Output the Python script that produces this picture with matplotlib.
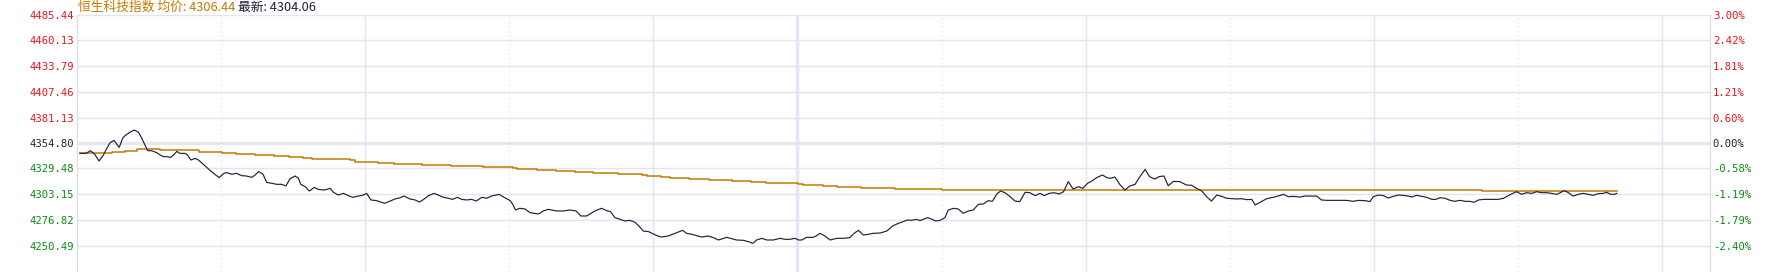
import matplotlib
matplotlib.use('Agg')
import matplotlib.pyplot as plt

# minutes after 9:30 (midday break removed, 12:00 == 13:00 == 150)
mins = [0.6, 1.9, 2.8, 3.7, 4.6, 5.5, 6.2, 6.9, 7.7, 8.3, 8.8, 9.5, 10.0, 11.0, 11.9,
        12.8, 13.5, 14.2, 14.7, 15.5, 16.6, 17.3, 18.0, 18.7, 19.5, 20.1, 20.8, 21.4,
        22.5, 23.0, 23.7, 24.6, 25.3, 26.3, 27.0, 27.7, 28.7, 29.6, 30.6, 31.2, 32.2,
        33.2, 34.3, 35.2, 36.4, 37.1, 37.8, 38.7, 39.5, 40.5, 41.6, 42.6, 43.5, 44.3,
        45.4, 46.1, 46.6, 47.5, 48.4, 49.4, 50.2, 51.5,
        52.7, 53.4, 54.4, 55.5, 56.5, 57.4, 58.6, 59.6, 60.3, 61.2, 62.4, 63.4, 64.1,
        65.2, 66.2, 67.3, 68.1, 69.3, 70.4, 71.3, 72.1, 73.2, 74.3, 75.2, 76.3, 77.3,
        78.2, 79.2, 80.1, 81.1, 82.2, 83.1, 84.3, 85.3, 86.3, 87.9, 88.8, 90.2, 90.8,
        91.3, 92.2, 93.3, 94.3, 96.1, 97.1, 98.1, 99.9, 101.3, 102.6, 103.9, 104.9, 106.1,
        106.8, 107.8, 109.2, 110.3, 111.1, 112.0, 113.1, 114.1, 115.1, 116.2, 117.1,
        117.9, 119.0, 120.0, 120.9, 121.7, 123.1, 124.5, 126.1, 126.9, 128.0, 129.0,
        130.1, 131.4, 132.5, 133.5, 134.2, 135.3, 136.3, 137.3, 138.7, 139.8, 140.7,
        141.5, 142.6, 143.6, 145.0, 146.4, 147.4, 148.5, 149.5, 150.2, 150.9, 151.9,
        153.3, 154.0, 154.7, 155.7, 156.8, 158.2, 159.6,
        160.9, 161.8, 162.7, 163.7, 164.8, 165.8, 167.2, 168.6, 169.8, 171.0, 172.0,
        172.9, 173.8, 174.8, 175.5, 176.2, 177.1, 177.9, 178.8, 179.7, 180.7, 181.4,
        182.5, 183.5, 184.5, 185.6, 186.6, 187.7, 188.7, 189.7, 190.6, 191.5, 192.3,
        193.2, 194.3, 195.3, 196.3, 197.4, 198.4, 199.5, 200.5, 201.4, 202.4, 203.4,
        204.5, 205.4, 206.4, 207.4, 208.5, 209.4, 210.4, 211.3, 212.3, 213.5, 214.4,
        215.1, 216.1, 217.2, 218.2, 219.2, 220.3, 221.3, 222.4, 223.3, 224.4, 225.3,
        226.3, 227.2, 228.3, 229.6, 231.0, 232.1, 233.1, 234.2, 235.2, 236.2, 237.3,
        238.3, 239.4, 240.4, 241.4, 242.5, 243.5, 244.6, 245.3, 246.3, 247.7, 249.1,
        250.1, 251.2, 252.2, 253.2, 254.6, 255.7, 256.7, 258.1, 259.1, 260.2, 262.3,
        264.3, 265.7, 266.8, 268.2,
        269.2, 269.9, 270.9, 272.0, 273.0, 274.1, 275.1, 276.1, 277.2, 277.9, 278.9,
        280.0, 281.0, 282.1, 282.9, 283.8, 284.8, 285.9, 286.9, 287.9, 289.0, 290.0,
        290.9, 291.8, 292.8, 294.2, 295.9, 297.0, 298.0, 298.7, 299.7, 300.8, 301.8,
        302.9, 303.9, 304.9, 306.0, 307.0, 308.1, 308.8, 309.7, 310.5, 311.5, 312.6,
        313.6, 314.7, 315.7, 316.7, 317.8, 318.5, 319.3, 320.1, 320.6]

price = [4344.8, 4344.8, 4347.5, 4343.8, 4337.0, 4343.1, 4349.9, 4355.6, 4358.0, 4354.0,
         4350.9, 4360.1, 4362.8, 4366.2, 4368.5, 4366.2, 4360.1, 4352.6, 4347.5, 4347.5,
         4345.5, 4343.1, 4341.4, 4341.4, 4340.7, 4343.1, 4346.8, 4344.8, 4344.8, 4343.1,
         4338.0, 4339.7, 4338.0, 4333.6, 4330.6, 4327.5, 4323.5, 4320.1, 4324.5, 4325.2,
         4323.5, 4324.5, 4322.1, 4321.8, 4320.4, 4322.8, 4326.2, 4323.8, 4315.3, 4314.3,
         4313.3, 4313.3, 4311.6, 4318.7, 4321.8, 4319.4, 4313.3, 4310.9, 4306.5, 4310.2,
         4308.2, 4307.5,
         4309.2, 4305.2, 4302.4, 4304.1, 4301.8, 4300.1, 4301.4, 4302.4, 4304.1, 4297.4,
         4296.7, 4295.0, 4294.0, 4296.3, 4298.4, 4299.7, 4301.4, 4298.4, 4297.4, 4295.3,
         4297.7, 4301.8, 4304.1, 4302.4, 4300.1, 4299.1, 4298.0, 4300.1, 4298.0, 4297.4,
         4298.0, 4296.3, 4300.1, 4299.1, 4301.4, 4303.1, 4300.4, 4296.7, 4292.3, 4287.2,
         4288.9, 4288.2, 4284.5, 4283.1, 4286.2, 4287.9, 4286.2, 4286.2, 4287.2, 4286.2,
         4281.1, 4281.1,
         4283.1, 4286.2, 4288.9, 4286.5, 4285.5, 4279.4, 4277.7, 4276.0, 4276.7, 4274.7,
         4270.3, 4265.8, 4265.2, 4262.8, 4260.8, 4259.7, 4260.8, 4263.5, 4266.5, 4263.5,
         4262.5, 4261.1, 4259.7, 4260.8, 4259.1, 4256.7, 4257.7, 4259.4, 4258.1, 4256.7,
         4256.4, 4255.0, 4253.3, 4256.7, 4258.4, 4256.7, 4256.7, 4258.4, 4257.4, 4257.4,
         4258.4, 4256.7, 4256.7, 4259.4, 4259.4, 4261.1, 4263.5, 4260.8, 4256.7, 4258.4,
         4258.4,
         4259.1, 4263.5, 4266.5, 4261.8, 4262.5, 4263.5, 4263.8, 4265.8, 4270.9, 4273.6,
         4275.3, 4277.0, 4276.7, 4277.7, 4276.4, 4277.7, 4279.4, 4278.0, 4276.0, 4276.7,
         4279.4, 4287.2, 4288.9, 4288.2, 4283.8, 4286.2, 4287.2, 4293.0, 4293.3, 4296.7,
         4296.0, 4303.5, 4306.5, 4304.8, 4300.7, 4296.3, 4295.7, 4305.2, 4304.8, 4301.8,
         4304.1, 4301.8, 4304.1, 4304.8, 4303.5, 4305.8, 4316.0, 4308.5, 4310.9, 4309.2,
         4314.3, 4316.7, 4320.1, 4322.8, 4320.1,
         4319.4, 4320.7, 4312.6, 4307.5, 4311.6, 4313.3, 4321.1, 4328.5, 4321.1, 4318.7,
         4321.1, 4321.8, 4311.9, 4316.3, 4316.0, 4312.6, 4312.3, 4309.2, 4306.5, 4300.7,
         4296.3, 4302.4, 4301.1, 4299.1, 4298.7, 4298.4, 4298.7, 4297.7, 4298.0, 4292.3,
         4295.0, 4298.7, 4300.1, 4301.4, 4303.1, 4300.7, 4301.1, 4300.4, 4301.4, 4301.4,
         4301.4, 4297.4, 4297.0, 4297.0, 4297.0, 4296.0, 4297.0, 4296.7,
         4295.7, 4300.7, 4302.4, 4301.8, 4299.4, 4301.1, 4302.4, 4302.1, 4301.4, 4300.4,
         4302.1, 4301.1, 4300.1, 4298.0, 4298.0, 4299.7, 4299.1, 4297.0, 4296.0, 4297.0,
         4296.0, 4296.0, 4295.0, 4297.4, 4298.0, 4298.0, 4298.0, 4299.1, 4301.8, 4303.5,
         4305.8, 4303.1, 4304.8, 4304.1, 4305.8, 4304.8, 4304.8, 4304.1, 4303.1, 4304.8,
         4306.9, 4304.8, 4301.4, 4303.1, 4304.1, 4303.1, 4302.1, 4303.8, 4304.1, 4305.2,
         4303.1, 4303.1, 4304.1]

# average price (stepped)
avg_mins = [0.6, 7.2, 10.0, 12.4, 17.3, 25.3, 30.1, 33.1, 37.1, 41.0, 44.2, 47.1, 48.9,
            56.8, 57.9, 62.7, 65.9, 71.8, 77.8, 84.6, 90.7, 91.7, 95.7, 99.7, 103.7,
            107.5, 112.7, 117.6, 118.6, 121.5, 123.5, 127.4, 131.6, 136.4, 140.3, 143.5,
            150.2, 151.2, 155.3, 158.2, 163.2, 170.3, 180.0, 292.5, 320.6]
avg_price = [4344.8, 4345.8, 4347.5, 4349.2, 4348.2, 4346.2, 4344.8, 4343.8, 4342.8,
             4341.8, 4340.7, 4339.7, 4339.0, 4337.7, 4335.7, 4334.6, 4333.6, 4332.6,
             4331.6, 4330.6, 4329.6, 4328.9, 4327.5, 4326.5, 4325.5, 4324.5, 4323.5,
             4322.4, 4321.4, 4320.7, 4319.7, 4318.7, 4317.4, 4316.3, 4315.3, 4314.3,
             4313.3, 4312.3, 4311.6, 4310.6, 4309.6, 4308.2, 4307.2, 4306.5, 4306.5]

price_ticks = [4485.44, 4460.13, 4433.79, 4407.46, 4381.13, 4354.80,
               4329.48, 4303.15, 4276.82, 4250.49]
pct_labels = ['3.00%', '2.42%', '1.81%', '1.21%', '0.60%', '0.00%',
              '-0.58%', '-1.19%', '-1.79%', '-2.40%']
prev_close = 4354.80

RED = '#e8141e'
GREEN = '#0a8c14'
DARK = '#20203a'
ORANGE = '#c47a00'
GRID = '#e4e4ef'

W, H = 1768, 272
fig = plt.figure(figsize=(W / 100, H / 100), dpi=100)
ax = fig.add_axes([77 / W, 0, (1710 - 77) / W, (272 - 15) / H])
ax.set_xlim(0, 340)
ax.set_ylim(4224.16, 4485.44)

# grid
for t in price_ticks:
    if t == prev_close:
        ax.axhline(t, color='#e6e6f2', lw=2.4, zorder=0)
    else:
        ax.axhline(t, color=GRID, lw=1, zorder=0)
for m in [60, 120, 210, 270, 330]:
    ax.axvline(m, color=GRID, lw=1, zorder=0)
for m in [30, 90, 180, 240, 300]:
    ax.axvline(m, color='#dcdce8', lw=0.8, ls=(0, (1, 3)), zorder=0)
ax.axvline(150, color='#e6e6f2', lw=2.4, zorder=0)

ax.plot(avg_mins, avg_price, color=ORANGE, lw=1.1, drawstyle='steps-post', zorder=2)
ax.plot(mins, price, color=DARK, lw=0.85, zorder=3)

for s in ['top', 'bottom']:
    ax.spines[s].set_visible(False)
for s in ['left', 'right']:
    ax.spines[s].set_color('#dcdce8')

ax.set_xticks([])
ax.set_yticks(price_ticks)
ax.set_yticklabels(['%.2f' % t for t in price_ticks])
ax.tick_params(axis='y', length=0, pad=2, labelsize=7.6)
cols = [RED if t > prev_close else (DARK if t == prev_close else GREEN) for t in price_ticks]
for lab, c in zip(ax.get_yticklabels(), cols):
    lab.set_color(c)
    lab.set_family('DejaVu Sans Mono')

ax2 = ax.twinx()
ax2.set_ylim(ax.get_ylim())
ax2.set_yticks(price_ticks)
ax2.set_yticklabels(pct_labels)
ax2.tick_params(axis='y', length=0, pad=2, labelsize=7.6)
for s in ['top', 'bottom', 'left']:
    ax2.spines[s].set_visible(False)
ax2.spines['right'].set_color('#dcdce8')
for lab, c in zip(ax2.get_yticklabels(), cols):
    lab.set_color(c)
    lab.set_family('DejaVu Sans Mono')

cjk = ['Noto Sans CJK SC', 'DejaVu Sans']
t1 = fig.text(78 / W, 1 - 7 / H, '恒生科技指数 均价: 4306.44', color=ORANGE,
              fontsize=9.2, family=cjk, va='center', ha='left')
fig.canvas.draw()
bb = t1.get_window_extent()
fig.text((bb.x1 + 3) / W, 1 - 7 / H, '最新: 4304.06', color=DARK,
         fontsize=9.2, family=cjk, va='center', ha='left')

fig.savefig('out.png', dpi=100)
